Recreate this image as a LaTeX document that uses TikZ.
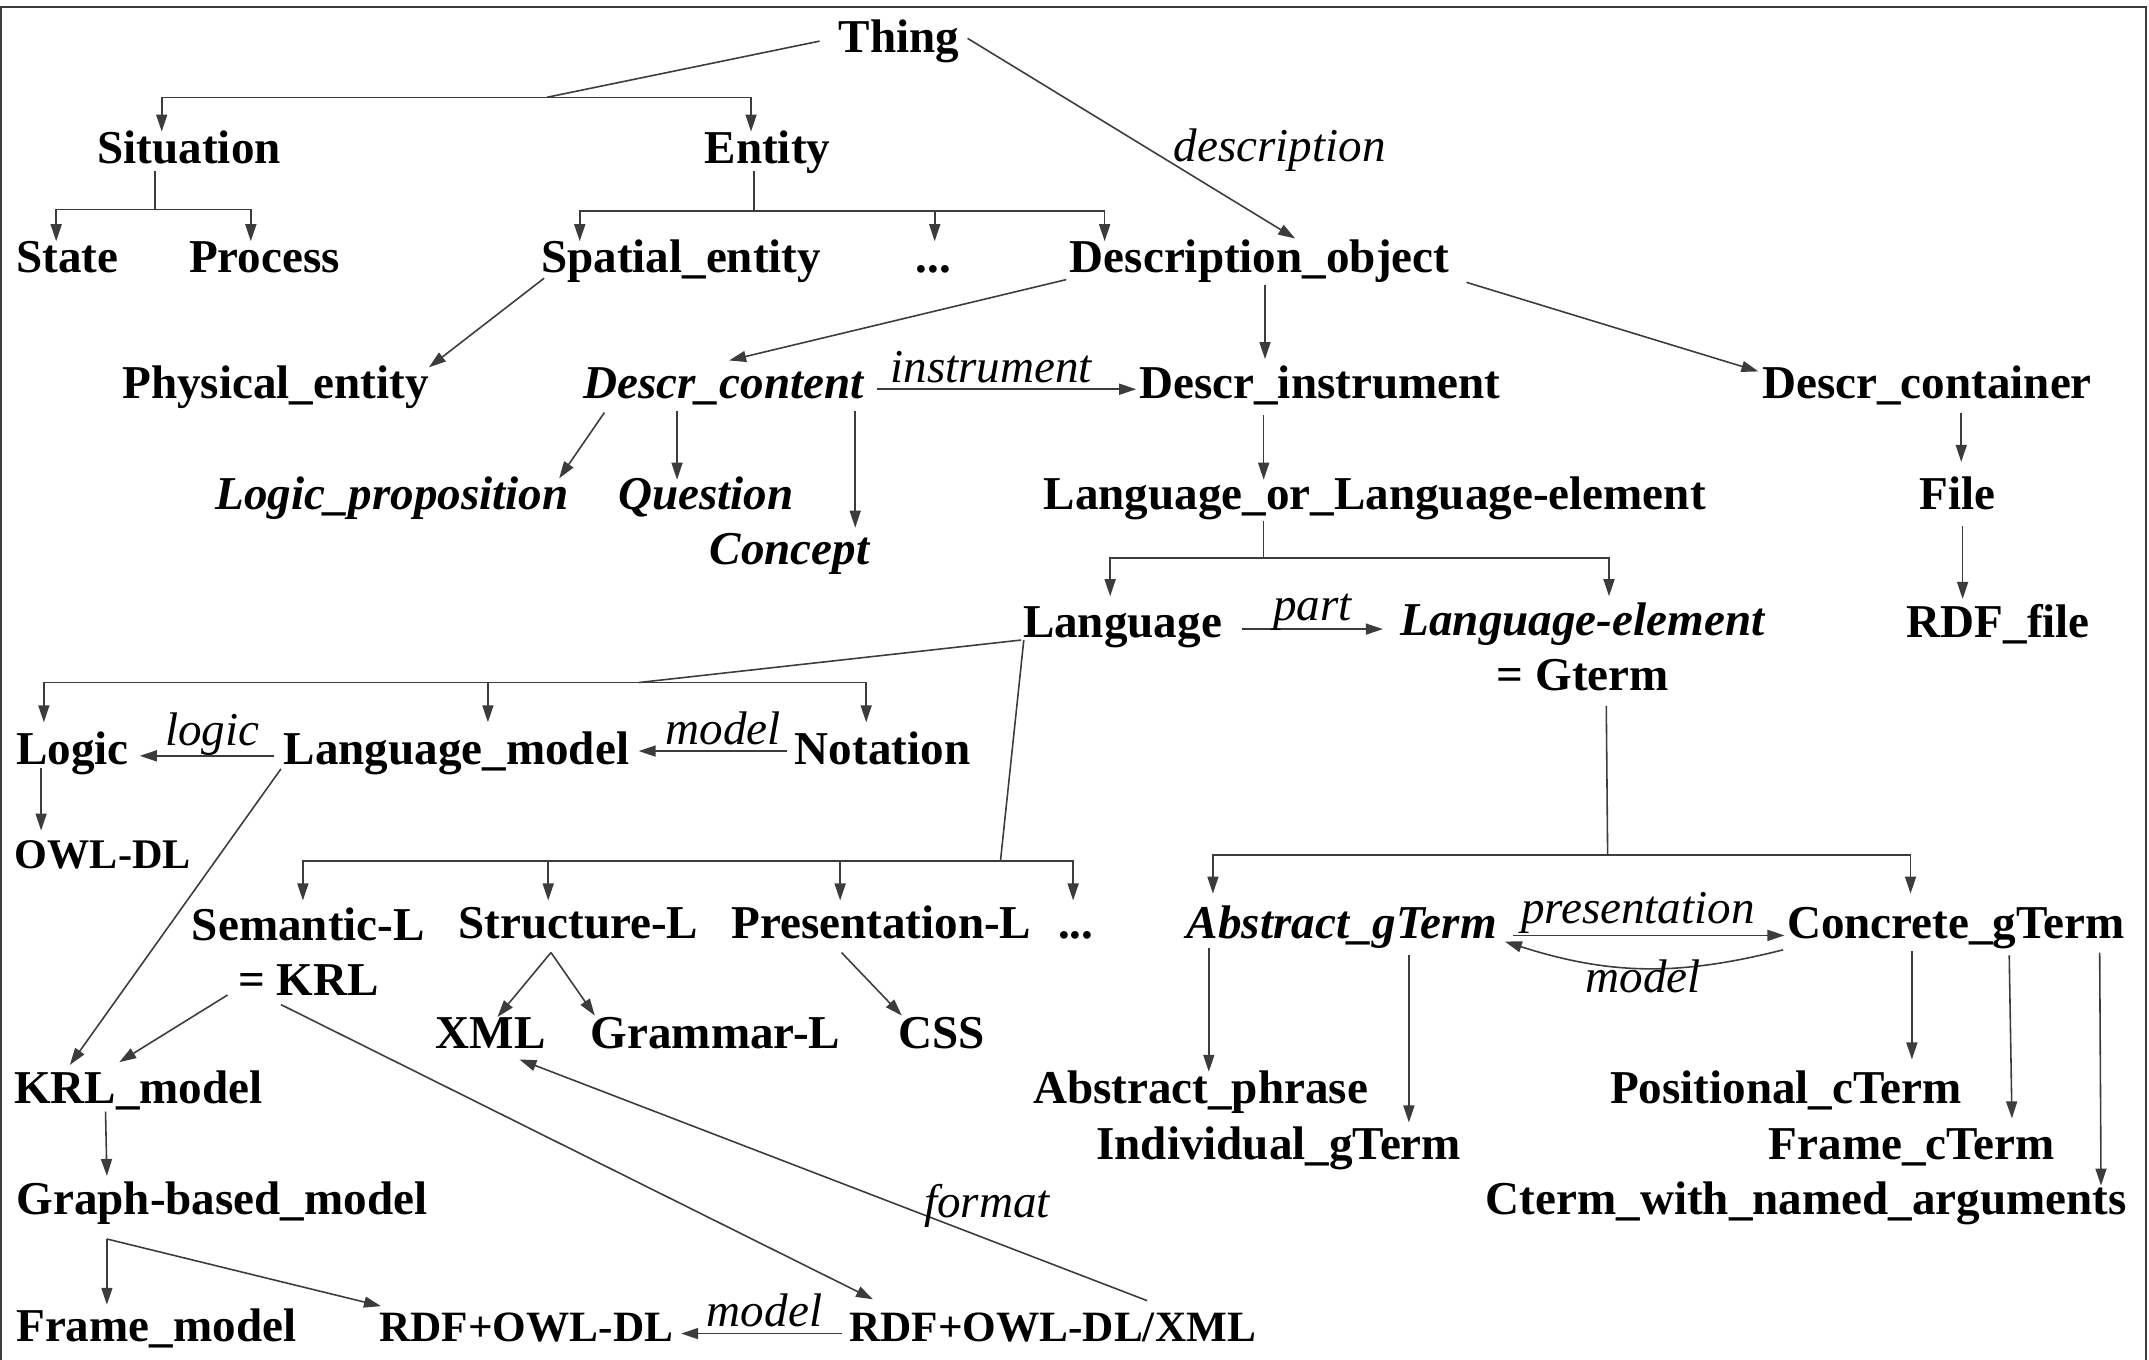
\documentclass[tikz,border=0pt]{standalone}
\usepackage{fontspec}
\setmainfont{Liberation Serif}
\usepackage{xcolor}
\definecolor{ongray}{RGB}{60,60,60}
\usetikzlibrary{arrows.meta}
\tikzset{
  term/.style={anchor=base,inner sep=1pt,font=\fontsize{13.4}{15.6}\selectfont\bfseries},
  iterm/.style={term,font=\fontsize{13.4}{15.6}\selectfont\bfseries\itshape},
  sterm/.style={term,font=\fontsize{12.3}{14}\selectfont\bfseries},
  lbl/.style={inner sep=1pt,font=\fontsize{13.4}{15.6}\selectfont\itshape},
  link/.style={draw=ongray,line width=0.45pt},
  flow/.style={link,-{Triangle[length=1.7mm,width=1.1mm]}},
}

\begin{document}
\begin{tikzpicture}[x=0.013705cm,y=-0.013705cm]
\useasboundingbox (0,0) rectangle (1568,992);
\draw[ongray,line width=0.6pt] (1,1000) -- (1,5) -- (1566,5) -- (1566,1000);
% upper levels
\node[term] (thing) at (656,38) {Thing};
\node[term] (situation) at (138,119) {Situation};
\node[term] (entity) at (560,119) {Entity};
\node[term] (state) at (49,199) {State};
\node[term] (process) at (193,199) {Process};
\node[term] (spatial) at (497,199) {Spatial\_entity};
\node[term] (etcA) at (681,199) {...};
\node[term] (descrobj) at (919,199) {Description\_object};
\node[term] (physical) at (201,291) {Physical\_entity};
\node[iterm] (descrcontent) at (528,291) {Descr\_content};
\node[term] (descrinstr) at (963,291) {Descr\_instrument};
\node[term] (descrcontainer) at (1406,291) {Descr\_container};
\node[iterm] (logicprop) at (286,372) {Logic\_proposition};
\node[iterm] (question) at (515,372) {Question};
\node[iterm] (concept) at (576,412) {Concept};
\node[term] (langor) at (1003,372) {Language\_or\_Language-element};
\node[term] (file) at (1428,372) {File};
\node[term] (rdffile) at (1458,465) {RDF\_file};
% languages
\node[term] (language) at (819,465) {Language};
\node[term,align=center] (langelem) at (1155,504) {\textit{Language-element}\\= Gterm};
\node[term] (logic) at (53,558) {Logic};
\node[term] (langmodel) at (333,558) {Language\_model};
\node[term] (notation) at (644,558) {Notation};
\node[sterm,font=\fontsize{12}{14}\selectfont\bfseries] (owldl) at (75,634) {OWL-DL};
\node[term,align=center] (semantic) at (225,726) {Semantic-L\\= KRL};
\node[term] (structure) at (422,685) {Structure-L};
\node[term] (presentation) at (643,685) {Presentation-L};
\node[term] (etcB) at (785,685) {...};
\node[term] (xml) at (358,765) {XML};
\node[term] (grammar) at (522,765) {Grammar-L};
\node[term] (css) at (687,765) {CSS};
\node[term] (krlmodel) at (101,805) {KRL\_model};
\node[term] (graphmodel) at (162,886) {Graph-based\_model};
\node[term] (framemodel) at (114,979) {Frame\_model};
\node[sterm] (rdfowl) at (384,979) {RDF+OWL-DL};
\node[sterm] (rdfowlxml) at (768,979) {RDF+OWL-DL/XML};
% gterms
\node[iterm] (abstract) at (979,685) {Abstract\_gTerm};
\node[term] (concrete) at (1427,685) {Concrete\_gTerm};
\node[term] (absphrase) at (876,805) {Abstract\_phrase};
\node[term] (posterm) at (1303,805) {Positional\_cTerm};
\node[term] (indiv) at (933,846) {Individual\_gTerm};
\node[term] (frameterm) at (1395,846) {Frame\_cTerm};
\node[term] (cterm) at (1318,886) {Cterm\_with\_named\_arguments};
% forks
\coordinate (thingfork) at (399,71);
\coordinate (sitfork) at (113,153);
\coordinate (entfork) at (550,154);
\coordinate (lofork) at (922,407);
\coordinate (langfork) at (466,498);
\coordinate (kindfork) at (730,628);
\coordinate (gtermfork) at (1173,624);
% flows
\draw[link] ([shift={(-58,-8)}]thing.base) -- (thingfork);
\draw[flow] (thingfork) -| ([shift={(-20,-23)}]situation.base);
\draw[flow] (thingfork) -| ([shift={(-12,-23)}]entity.base);
\draw[flow] ([shift={(50,-10)}]thing.base) -- node[lbl,anchor=base west,pos=0.616]{description} ([shift={(26,-25)}]descrobj.base);
\draw[link] ([shift={(-25,6)}]situation.base) -- (sitfork);
\draw[flow] (sitfork) -| ([shift={(-8,-23)}]state.base);
\draw[flow] (sitfork) -| ([shift={(-10,-23)}]process.base);
\draw[link] ([shift={(-10,6)}]entity.base) -- (entfork);
\draw[flow] (entfork) -| ([shift={(-74,-23)}]spatial.base);
\draw[flow] (entfork) -| ([shift={(1,-23)}]etcA.base);
\draw[flow] (entfork) -| ([shift={(-113,-23)}]descrobj.base);
\draw[flow] ([shift={(-100,4)}]spatial.base) -- ([shift={(112,-23)}]physical.base);
\draw[flow] ([shift={(-141,5)}]descrobj.base) -- ([shift={(4,-28)}]descrcontent.base);
\draw[flow] ([shift={(4,9)}]descrobj.base) -- ([shift={(-40,-29)}]descrinstr.base);
\draw[flow] ([shift={(151,7)}]descrobj.base) -- ([shift={(-123,-20)}]descrcontainer.base);
\draw[flow] ([shift={(112,-7)}]descrcontent.base) -- node[lbl,anchor=base,pos=0.44,yshift=2pt]{instrument} ([shift={(-134,-7)}]descrinstr.base);
\draw[flow] ([shift={(-87,10)}]descrcontent.base) -- ([shift={(122,-23)}]logicprop.base);
\draw[flow] ([shift={(-34,9)}]descrcontent.base) -- ([shift={(-21,-22)}]question.base);
\draw[flow] ([shift={(96,9)}]descrcontent.base) -- ([shift={(48,-27)}]concept.base);
\draw[flow] ([shift={(-41,12)}]descrinstr.base) -- ([shift={(-81,-22)}]langor.base);
\draw[flow] ([shift={(25,10)}]descrcontainer.base) -- ([shift={(3,-35)}]file.base);
\draw[flow] ([shift={(4,12)}]file.base) -- ([shift={(-26,-28)}]rdffile.base);
\draw[link] ([shift={(-81,8)}]langor.base) -- (lofork);
\draw[flow] (lofork) -| ([shift={(-9,-30)}]language.base);
\draw[flow] (lofork) -| ([shift={(19,-69)}]langelem.base);
\draw[flow] ([shift={(87,-6)}]language.base) -- node[lbl,anchor=base,pos=0.5,yshift=2.5pt]{part} ([shift={(-146,-45)}]langelem.base);
\draw[link] ([shift={(-74,2)}]language.base) -- (langfork);
\draw[flow] (langfork) -| ([shift={(-21,-31)}]logic.base);
\draw[flow] (langfork) -| ([shift={(23,-31)}]langmodel.base);
\draw[flow] (langfork) -| ([shift={(-12,-31)}]notation.base);
\draw[link] ([shift={(-72,2)}]language.base) -- (kindfork);
\draw[flow] (kindfork) -| ([shift={(-4,-69)}]semantic.base);
\draw[flow] (kindfork) -| ([shift={(-22,-28)}]structure.base);
\draw[flow] (kindfork) -| ([shift={(-30,-28)}]presentation.base);
\draw[flow] (kindfork) -| ([shift={(-2,-28)}]etcB.base);
\draw[flow] ([shift={(-133,-6.5)}]langmodel.base) -- node[lbl,anchor=base,pos=0.46,yshift=2.9pt]{logic} ([shift={(49,-6.5)}]logic.base);
\draw[flow] ([shift={(-70,-10)}]notation.base) -- node[lbl,anchor=base,pos=0.43,yshift=1.8pt]{model} ([shift={(133,-10)}]langmodel.base);
\draw[flow] ([shift={(-23,2)}]logic.base) -- ([shift={(-45,-28)}]owldl.base);
\draw[flow] ([shift={(-128,3)}]langmodel.base) -- ([shift={(-50,-28)}]krlmodel.base);
\draw[flow] ([shift={(-59,0)}]semantic.base) -- ([shift={(-14,-30)}]krlmodel.base);
\draw[flow] ([shift={(-20,7)}]semantic.base) -- ([shift={(-131,-31)}]rdfowlxml.base);
\draw[flow] ([shift={(-20,10)}]structure.base) -- ([shift={(5,-23)}]xml.base);
\draw[flow] ([shift={(-20,10)}]structure.base) -- ([shift={(-88,-24)}]grammar.base);
\draw[flow] ([shift={(-29,10)}]presentation.base) -- ([shift={(-29,-24)}]css.base);
\draw[flow] ([shift={(69,-30)}]rdfowlxml.base) -- node[lbl,anchor=base,pos=0.255,yshift=6.2pt]{format} ([shift={(21,8)}]xml.base);
\draw[flow] ([shift={(-154,-6)}]rdfowlxml.base) -- node[lbl,anchor=base,pos=0.48,yshift=2pt]{model} ([shift={(113,-6)}]rdfowl.base);
\draw[flow] ([shift={(-24,6)}]krlmodel.base) -- ([shift={(-84,-28)}]graphmodel.base);
\draw[flow] ([shift={(-84,18)}]graphmodel.base) -- ([shift={(-36,-27)}]framemodel.base);
\draw[flow] ([shift={(-84,18)}]graphmodel.base) -- ([shift={(-106,-26)}]rdfowl.base);
\draw[link] ([shift={(17,11)}]langelem.base) -- (gtermfork);
\draw[flow] (gtermfork) -| ([shift={(-94,-33)}]abstract.base);
\draw[flow] (gtermfork) -| ([shift={(-33,-33)}]concrete.base);
\draw[flow] ([shift={(125,-2.5)}]abstract.base) -- node[lbl,anchor=base,pos=0.46,yshift=3.4pt]{presentation} ([shift={(-125,-2.5)}]concrete.base);
\draw[flow] ([shift={(-126,8)}]concrete.base) to[bend left=16] node[lbl,anchor=base,midway,yshift=-7pt]{model} ([shift={(119,2)}]abstract.base);
\draw[flow] ([shift={(-97,7)}]abstract.base) -- ([shift={(6,-23)}]absphrase.base);
\draw[flow] ([shift={(49,12)}]abstract.base) -- ([shift={(95,-27)}]indiv.base);
\draw[flow] ([shift={(-32,9)}]concrete.base) -- ([shift={(92,-32)}]posterm.base);
\draw[flow] ([shift={(39,12)}]concrete.base) -- ([shift={(73,-30)}]frameterm.base);
\draw[flow] ([shift={(105,10)}]concrete.base) -- ([shift={(215,-21)}]cterm.base);
\end{tikzpicture}
\end{document}
